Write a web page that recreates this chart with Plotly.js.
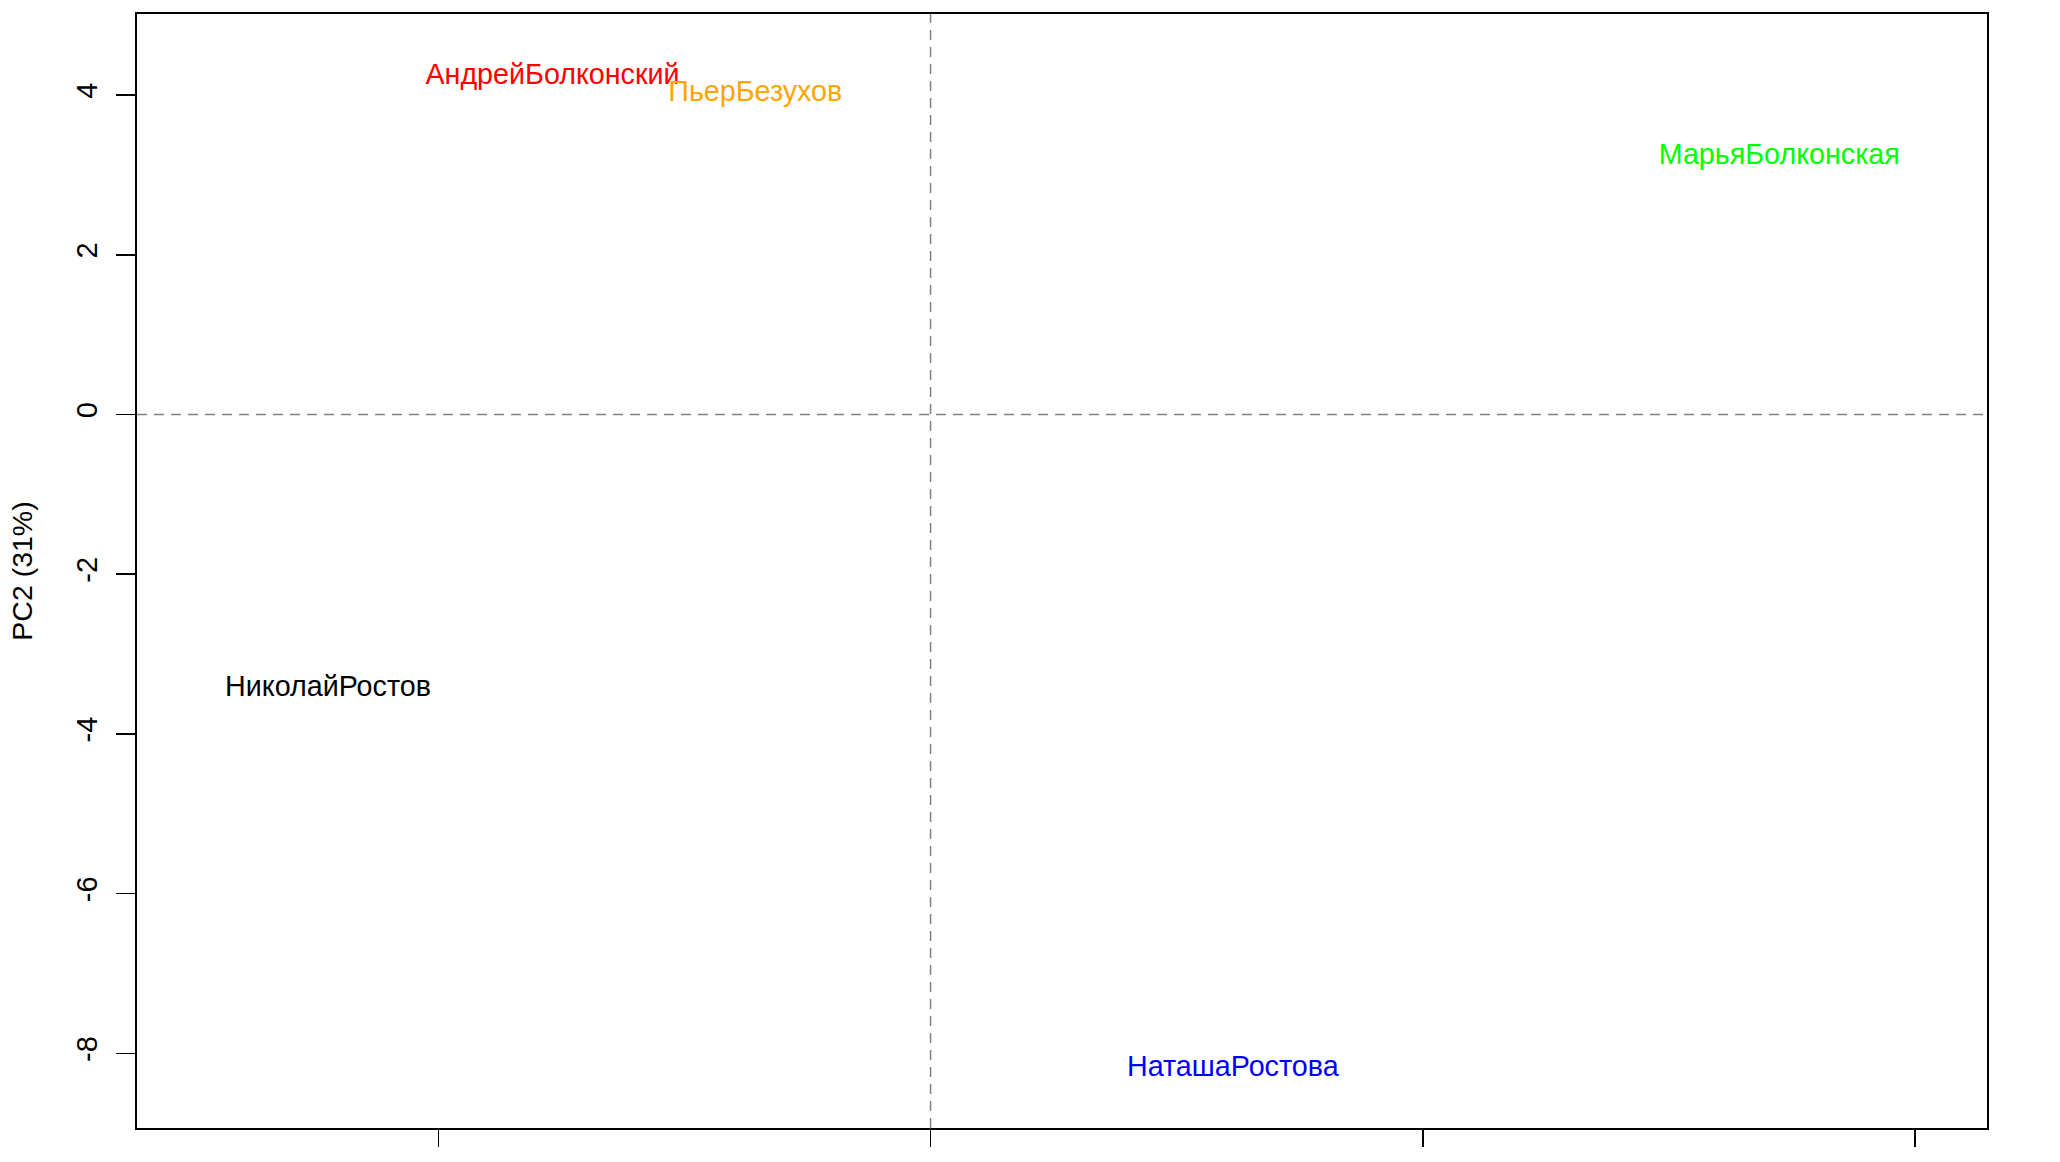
<!DOCTYPE html>
<html>
<head>
<meta charset="utf-8">
<script src="https://cdn.plot.ly/plotly-3.0.1.min.js"></script>
<style>
html, body { margin: 0; padding: 0; background: #ffffff; }
#chart { width: 2060px; height: 1162px; }
</style>
</head>
<body>
<div id="chart"></div>
<script>
// Character labels and their PCA scores
const characters = ["АндрейБолконский", "ПьерБезухов", "МарьяБолконская", "НиколайРостов", "НаташаРостова"];
const pc1 = [-3.84, -1.78, 8.62, -6.12, 3.07];
const pc2 = [4.23, 4.02, 3.23, -3.43, -8.20];
const labelColors = ["#ff0000", "#ffa500", "#00ff00", "#000000", "#0000ff"];
const yTickVals = [-8, -6, -4, -2, 0, 2, 4];
const xTickVals = [-5, 0, 5, 10];
const yTitle = "PC2 (31%)";

const FONT = "Liberation Sans, Arial, Helvetica, sans-serif";

const trace = {
  type: "scatter",
  mode: "text",
  x: pc1,
  y: pc2,
  text: characters,
  textposition: "middle center",
  textfont: { family: FONT, size: 28.7, color: labelColors },
  hoverinfo: "skip",
  showlegend: false,
  cliponaxis: false
};

const layout = {
  width: 2060,
  height: 1162,
  margin: { l: 137, r: 73, t: 14, b: 34, pad: 0 },
  paper_bgcolor: "#ffffff",
  plot_bgcolor: "#ffffff",
  showlegend: false,
  font: { family: FONT, size: 28, color: "#000000" },
  xaxis: {
    range: [-8.06, 10.73],
    tickvals: xTickVals,
    showticklabels: false,
    ticks: "outside",
    ticklen: 17,
    tickwidth: 1.5,
    tickcolor: "#000000",
    showgrid: false,
    zeroline: false,
    showline: true,
    mirror: true,
    linecolor: "#000000",
    linewidth: 2,
    fixedrange: true
  },
  yaxis: {
    range: [-8.935, 5.015],
    tickvals: yTickVals,
    ticktext: yTickVals.map(String),
    tickangle: -90,
    ticks: "outside",
    ticklen: 19,
    tickwidth: 1.5,
    tickcolor: "#000000",
    tickfont: { family: FONT, size: 29, color: "#000000" },
    ticklabelstandoff: 7,
    showgrid: false,
    zeroline: false,
    showline: true,
    mirror: true,
    linecolor: "#000000",
    linewidth: 2,
    automargin: false,
    title: { text: yTitle, font: { family: FONT, size: 28.5, color: "#000000" }, standoff: 30 },
    fixedrange: true
  },
  shapes: [
    { type: "line", xref: "x", yref: "paper", x0: 0, x1: 0, y0: 0, y1: 1,
      line: { color: "#808080", width: 1.5, dash: "10px,7px" } },
    { type: "line", xref: "paper", yref: "y", x0: 0, x1: 1, y0: 0, y1: 0,
      line: { color: "#808080", width: 1.5, dash: "10px,7px" } }
  ]
};

Plotly.newPlot("chart", [trace], layout, { displayModeBar: false, staticPlot: true });
</script>
</body>
</html>
